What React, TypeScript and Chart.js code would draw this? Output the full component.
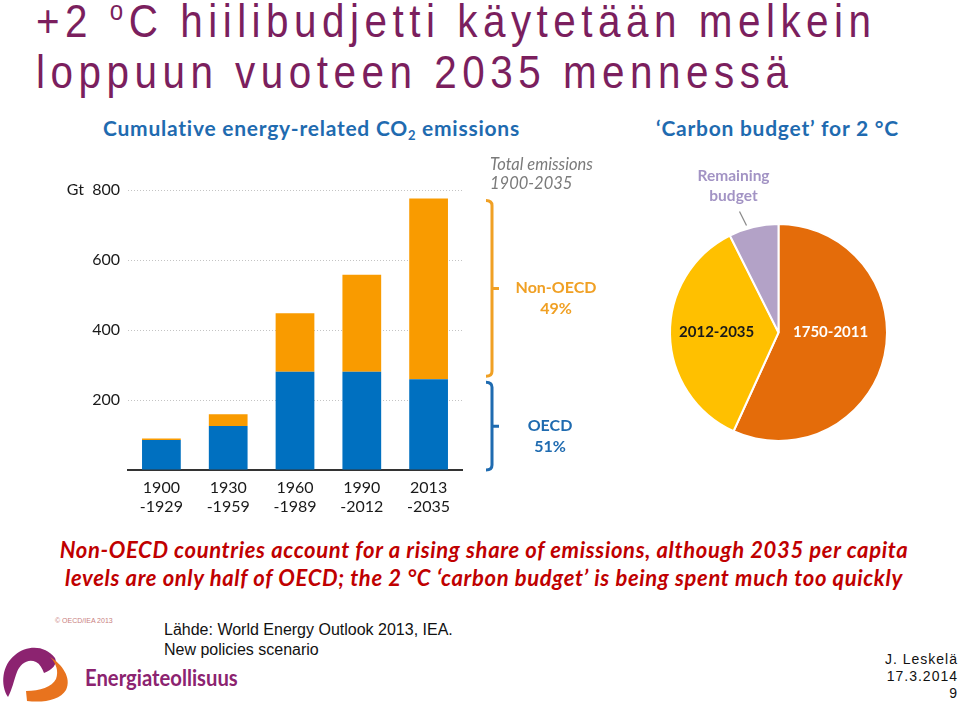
import React, { useEffect, useRef } from "react";
import { Chart, registerables } from "chart.js";
Chart.register(...registerables);

const periodLabels = [["1900", "-1929"], ["1930", "-1959"], ["1960", "-1989"], ["1990", "-2012"], ["2013", "-2035"]];
const oecdValues = [86, 126, 281, 281, 259];
const nonOecdValues = [4, 33, 167, 277, 517];
const yTickStep = 200;
const yMax = 800;
const nonOecdBrace = ["Non-OECD", "49%"];
const oecdBrace = ["OECD", "51%"];
const totalNote = ["Total emissions", "1900-2035"];
const budgetLabels = ["1750-2011", "2012-2035", "Remaining budget"];
const budgetShares = [56.8, 35.8, 7.4];

const BLUE = "#0070C0";
const ORANGE = "#F99B00";
const TITLE_BLUE = "#1F6BB0";
const FONT = "Lato, 'Open Sans', sans-serif";

function drawBrace(ctx: CanvasRenderingContext2D, x: number, top: number, bottom: number, color: string) {
  const mid = (top + bottom) / 2;
  ctx.save();
  ctx.strokeStyle = color;
  ctx.lineWidth = 3;
  ctx.lineCap = "butt";
  ctx.lineJoin = "round";
  ctx.beginPath();
  ctx.moveTo(x - 6, top);
  ctx.quadraticCurveTo(x, top, x, top + 5);
  ctx.lineTo(x, bottom - 5);
  ctx.quadraticCurveTo(x, bottom, x - 6, bottom);
  ctx.moveTo(x, mid);
  ctx.lineTo(x + 7, mid);
  ctx.stroke();
  ctx.restore();
}

const bracePlugin = {
  id: "braces",
  afterDraw(chart: any) {
    const { ctx, chartArea, scales } = chart;
    const y = scales.y;
    const last = oecdValues.length - 1;
    const total = oecdValues[last] + nonOecdValues[last];
    const yTop = y.getPixelForValue(total);
    const yMid = y.getPixelForValue(oecdValues[last]);
    const y0 = y.getPixelForValue(0);
    const bx = chartArea.right + 30;
    drawBrace(ctx, bx, yTop + 2, yMid - 3, "#F0A024");
    drawBrace(ctx, bx, yMid + 3, y0, TITLE_BLUE);
    ctx.save();
    ctx.textAlign = "center";
    ctx.textBaseline = "middle";
    ctx.font = `bold 16px ${FONT}`;
    const m1 = (yTop + yMid) / 2;
    ctx.fillStyle = "#F0A024";
    ctx.fillText(nonOecdBrace[0], chartArea.right + 94, m1 - 1);
    ctx.fillText(nonOecdBrace[1], chartArea.right + 94, m1 + 20);
    const m2 = (yMid + y0) / 2;
    ctx.fillStyle = TITLE_BLUE;
    ctx.fillText(oecdBrace[0], chartArea.right + 88, m2 + 1);
    ctx.fillText(oecdBrace[1], chartArea.right + 88, m2 + 22);
    ctx.textAlign = "left";
    ctx.font = `italic 16.5px ${FONT}`;
    ctx.fillStyle = "#7a7a7a";
    const yTopGrid = y.getPixelForValue(yMax);
    ctx.fillText(totalNote[0], chartArea.right + 28, yTopGrid - 25);
    ctx.fillText(totalNote[1], chartArea.right + 28, yTopGrid - 6);
    ctx.restore();
  },
};

const pieLabelPlugin = {
  id: "pieLabels",
  afterDraw(chart: any) {
    const { ctx } = chart;
    const arc = chart.getDatasetMeta(0).data[0];
    const { x, y, outerRadius: r } = arc;
    ctx.save();
    ctx.textAlign = "center";
    ctx.textBaseline = "middle";
    ctx.font = `bold 15px ${FONT}`;
    ctx.fillStyle = "#ffffff";
    ctx.fillText(budgetLabels[0], x + 0.48 * r, y);
    ctx.fillStyle = "#1a1a1a";
    ctx.fillText(budgetLabels[1], x - 0.57 * r, y);
    const parts = budgetLabels[2].split(" ");
    ctx.font = `bold 15.5px ${FONT}`;
    ctx.fillStyle = "#A293C4";
    ctx.fillText(parts[0], x - 45, y - 157);
    ctx.fillText(parts[1], x - 45, y - 137);
    ctx.strokeStyle = "#8a8a8a";
    ctx.lineWidth = 1.2;
    ctx.beginPath();
    ctx.moveTo(x - 39, y - 121);
    ctx.lineTo(x - 32, y - 107);
    ctx.stroke();
    ctx.restore();
  },
};

function BarChart() {
  const ref = useRef<HTMLCanvasElement>(null);
  useEffect(() => {
    const chart = new Chart(ref.current!, {
      type: "bar",
      data: {
        labels: periodLabels,
        datasets: [
          { label: "OECD", data: oecdValues, backgroundColor: BLUE, stack: "s" },
          { label: "Non-OECD", data: nonOecdValues, backgroundColor: ORANGE, stack: "s" },
        ],
      },
      options: {
        animation: false,
        responsive: false,
        devicePixelRatio: 1,
        layout: { padding: { top: 40, right: 158, bottom: 0, left: 0 } },
        plugins: { legend: { display: false }, tooltip: { enabled: false } },
        datasets: { bar: { barPercentage: 0.58, categoryPercentage: 1 } },
        scales: {
          x: {
            stacked: true,
            grid: { display: false, drawTicks: false },
            border: { color: "#333", width: 2 },
            ticks: { color: "#1a1a1a", font: { family: FONT, size: 16, lineHeight: 1.2 }, padding: 8, maxRotation: 0, autoSkip: false },
            afterFit: (s: any) => { s.height = 60; },
          },
          y: {
            stacked: true,
            min: 0,
            max: yMax,
            grid: {
              color: (c: any) => (c.tick && c.tick.value === 0 ? "rgba(0,0,0,0)" : "#c4c4c4"),
              lineWidth: 1,
              drawTicks: false,
            },
            border: { display: false, dash: [1, 2] },
            ticks: {
              stepSize: yTickStep,
              color: "#1a1a1a",
              font: { family: FONT, size: 16 },
              padding: 8,
              callback: (v: any) => (v === 0 ? "" : v === yMax ? "Gt  " + v : String(v)),
            },
            afterFit: (s: any) => { s.width = 88; },
          },
        },
      },
      plugins: [bracePlugin],
    });
    return () => chart.destroy();
  }, []);
  return <canvas ref={ref} width={580} height={380} style={{ position: "absolute", left: 40, top: 150, width: 580, height: 380 }} />;
}

function PieChart() {
  const ref = useRef<HTMLCanvasElement>(null);
  useEffect(() => {
    const chart = new Chart(ref.current!, {
      type: "pie",
      data: {
        labels: budgetLabels,
        datasets: [{ data: budgetShares, backgroundColor: ["#E46C0A", "#FFC000", "#B3A2C7"], borderColor: "#ffffff", borderWidth: 2 }],
      },
      options: {
        animation: false,
        responsive: false,
        devicePixelRatio: 1,
        layout: { padding: { left: 29, right: 32, top: 73, bottom: 18 } },
        plugins: { legend: { display: false }, tooltip: { enabled: false } },
      },
      plugins: [pieLabelPlugin],
    });
    return () => chart.destroy();
  }, []);
  return <canvas ref={ref} width={280} height={310} style={{ position: "absolute", left: 640, top: 150, width: 280, height: 310 }} />;
}

function Logo() {
  return (
    <div style={{ position: "absolute", left: 0, top: 640, width: 250, height: 66 }}>
      <svg width="75" height="66" viewBox="0 0 75 66" style={{ position: "absolute", left: 0, top: 0 }}>
        <path
          d="M8 57 C0 45, 2 25, 15 15 C27 5, 45 5, 55 18 C58 24, 52 30, 44 33 C42 28, 40 24, 36 22 C28 18, 20 24, 17 32 C14 40, 12 50, 8 57 Z"
          fill="#8C2370"
        />
        <path
          d="M50 17 C62 24, 72 38, 66 50 C60 60, 44 63, 27 61 L26 51 C40 51, 52 47, 56 39 C59 31, 56 23, 50 17 Z"
          fill="#E8731E"
        />
      </svg>
      <div style={{ position: "absolute", left: 85, top: 23, fontFamily: FONT, fontWeight: 700, fontSize: 23, color: "#8C2370", transform: "scaleX(0.88)", transformOrigin: "left center", whiteSpace: "nowrap" }}>
        Energiateollisuus
      </div>
    </div>
  );
}

export default function App() {
  const arial = "'Liberation Sans', Arial, sans-serif";
  return (
    <div style={{ position: "fixed", left: 0, top: 0, width: 960, height: 706, background: "#fff", overflow: "hidden" }}>
      <div style={{ position: "absolute", left: 36, top: -5, fontFamily: arial, fontSize: 47, lineHeight: "51px", letterSpacing: 6.4, color: "#7B1F5E", whiteSpace: "nowrap", transform: "scaleX(0.86)", transformOrigin: "left top" }}>
        <div>+2 <sup style={{ fontSize: 28, verticalAlign: 17, lineHeight: 0 }}>o</sup>C hiilibudjetti käytetään melkein</div>
        <div>loppuun vuoteen 2035 mennessä</div>
      </div>
      <div style={{ position: "absolute", left: 103, top: 115, fontFamily: FONT, fontWeight: 700, fontSize: 21, letterSpacing: 0.75, lineHeight: "26px", color: TITLE_BLUE, whiteSpace: "nowrap" }}>
        Cumulative energy-related CO<sub style={{ fontSize: 13, verticalAlign: -4, lineHeight: 0 }}>2</sub> emissions
      </div>
      <div style={{ position: "absolute", left: 656, top: 115, fontFamily: FONT, fontWeight: 700, fontSize: 21, letterSpacing: 0.75, lineHeight: "26px", color: TITLE_BLUE, whiteSpace: "nowrap" }}>
        ‘Carbon budget’ for 2 °C
      </div>
      <BarChart />
      <PieChart />
      <div style={{ position: "absolute", left: 24, top: 536, width: 920, textAlign: "center", fontFamily: FONT, fontWeight: 700, fontStyle: "italic", fontSize: 22, letterSpacing: 0.65, lineHeight: "28px", color: "#C00000" }}>
        <div style={{ whiteSpace: "nowrap" }}>Non-OECD countries account for a rising share of emissions, although 2035 per capita</div>
        <div style={{ whiteSpace: "nowrap" }}>levels are only half of OECD; the 2 °C ‘carbon budget’ is being spent much too quickly</div>
      </div>
      <div style={{ position: "absolute", left: 55, top: 617, fontFamily: arial, fontSize: 7, color: "#C98080", whiteSpace: "nowrap" }}>© OECD/IEA 2013</div>
      <div style={{ position: "absolute", left: 164, top: 620, fontFamily: arial, fontSize: 16, lineHeight: "20px", color: "#111", whiteSpace: "nowrap" }}>
        <div>Lähde: World Energy Outlook 2013, IEA.</div>
        <div>New policies scenario</div>
      </div>
      <div style={{ position: "absolute", right: 2, top: 651, fontFamily: arial, fontSize: 14, lineHeight: "17px", letterSpacing: 1, color: "#111", textAlign: "right", whiteSpace: "nowrap" }}>
        <div>J. Leskelä</div>
        <div>17.3.2014</div>
        <div>9</div>
      </div>
      <Logo />
    </div>
  );
}
